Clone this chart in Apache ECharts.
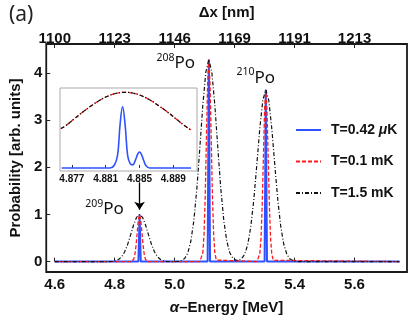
<!DOCTYPE html>
<html><head><meta charset="utf-8">
<script src="https://cdn.jsdelivr.net/npm/echarts@6/dist/echarts.min.js"></script>
<style>html,body{margin:0;padding:0;background:#fff}#c{width:415px;height:320px}</style>
</head><body><div id="c"></div>
<script>
const energyTicks = [4.6, 4.8, 5.0, 5.2, 5.4, 5.6];
const dxTickLabels = ['1100', '1123', '1146', '1169', '1191', '1213'];
const probTicks = [0, 1, 2, 3, 4];
const insetTicks = [4.877, 4.881, 4.885, 4.889];
const seriesNames = ['T=0.42 μK', 'T=0.1 mK', 'T=1.5 mK'];
const isotopes = ['209', '208', '210'];
const peakEnergy = [4.883, 5.114, 5.304];
const peakHeight = [1.0, 4.28, 3.64];
const arrowY = [1.68, 1.1];

const blueData = [[4.6,0],[4.879,0],[4.8815,0.6],[4.883,1.0],[4.8845,0.6],[4.887,0],
 [5.110,0],[5.1125,2.57],[5.114,4.28],[5.1155,2.57],[5.118,0],
 [5.300,0],[5.3025,2.18],[5.304,3.64],[5.3055,2.18],[5.308,0],[5.75,0]];

const redData = [[4.6,0],[4.853,0],[4.858,0.008],[4.863,0.044],[4.867,0.135],[4.871,0.325],[4.875,0.607],[4.879,0.882],[4.883,1.0],[4.887,0.882],[4.891,0.607],[4.895,0.325],[4.899,0.135],[4.903,0.044],[4.908,0.008],[4.913,0],
 [5.084,0],[5.089,0.033],[5.094,0.188],[5.098,0.578],[5.102,1.391],[5.106,2.598],[5.110,3.775],[5.114,4.28],[5.118,3.775],[5.122,2.598],[5.126,1.391],[5.130,0.578],[5.134,0.188],[5.139,0.033],[5.144,0],
 [5.274,0],[5.279,0.028],[5.284,0.160],[5.288,0.491],[5.292,1.183],[5.296,2.209],[5.300,3.210],[5.304,3.64],[5.308,3.210],[5.312,2.209],[5.316,1.183],[5.320,0.491],[5.324,0.160],[5.329,0.028],[5.334,0],[5.75,0]];

const blackData = [[4.6,0],[4.773,0],[4.783,0.002],[4.793,0.006],[4.803,0.017],[4.813,0.044],[4.823,0.101],[4.833,0.203],[4.843,0.360],[4.853,0.563],[4.863,0.775],[4.873,0.938],[4.883,1.0],[4.893,0.938],[4.903,0.775],[4.913,0.563],[4.923,0.360],[4.933,0.203],[4.943,0.101],[4.953,0.044],[4.963,0.017],[4.973,0.006],[4.983,0.002],[4.993,0.001],
 [5.004,0.002],[5.014,0.007],[5.024,0.024],[5.034,0.072],[5.044,0.188],[5.054,0.431],[5.064,0.869],[5.074,1.541],[5.084,2.410],[5.094,3.317],[5.104,4.015],[5.114,4.28],[5.124,4.015],[5.134,3.317],[5.144,2.410],[5.154,1.541],[5.164,0.869],[5.174,0.431],[5.184,0.188],[5.194,0.073],[5.204,0.030],
 [5.214,0.028],[5.224,0.064],[5.234,0.160],[5.244,0.367],[5.254,0.739],[5.264,1.310],[5.274,2.049],[5.284,2.821],[5.294,3.414],[5.304,3.64],[5.314,3.414],[5.324,2.821],[5.334,2.049],[5.344,1.310],[5.354,0.739],[5.364,0.367],[5.374,0.160],[5.384,0.062],[5.394,0.021],[5.404,0.006],[5.414,0.001],[5.75,0]];

const insetBlue = [[4.8758,0],[4.8815,0],[4.8820,0.04],[4.8824,0.2],[4.8827,0.7],[4.8830,1.0],[4.8833,0.7],[4.8836,0.2],[4.8839,0.07],[4.8842,0.05],[4.8845,0.12],[4.8848,0.23],[4.8850,0.26],[4.8852,0.23],[4.8855,0.12],[4.8858,0.03],[4.8862,0],[4.8911,0]];

const insetBroad = [[4.8757,0.64],[4.8763,0.69],[4.8773,0.80],[4.8783,0.91],[4.8793,1.01],[4.8803,1.10],[4.8813,1.17],[4.8823,1.215],[4.8833,1.23],[4.8843,1.215],[4.8853,1.17],[4.8863,1.10],[4.8873,1.01],[4.8883,0.91],[4.8893,0.80],[4.8903,0.69],[4.8911,0.62]];

const BLUE = '#2e52ff', RED = '#ff1a1a', BLACK = '#111';
const F = 'Liberation Sans, Arial, sans-serif';
const labelOffsets = [[-35, -5], [-33, 4], [-10, -12]];

const chart = echarts.init(document.getElementById('c'));
const axisText = {fontSize: 15, fontWeight: 'bold', color: '#111', fontFamily: F};

const option = {
  animation: false,
  title: {text: '(a)', left: 4, top: 0, textStyle: {fontSize: 21, fontWeight: 'normal', color: '#222', fontFamily: 'Noto Sans'}},
  grid: [
    {left: 45, right: 8, top: 44, bottom: 48, show: true, borderColor: '#1a1a1a', borderWidth: 1.8, backgroundColor: 'transparent'},
    {left: 60, top: 88, width: 137, height: 83, show: true, borderColor: '#aaa', borderWidth: 1, backgroundColor: '#fff', z: 10}
  ],
  xAxis: [
    {type: 'value', gridIndex: 0, min: 4.5717, max: 5.775, position: 'bottom',
     axisLine: {show: false}, splitLine: {show: false},
     axisTick: {inside: true, length: 4, customValues: energyTicks, lineStyle: {color: '#222'}},
     axisLabel: Object.assign({customValues: energyTicks, formatter: v => v.toFixed(1), margin: 5}, axisText),
     name: '{i|α}–Energy [MeV]', nameLocation: 'middle', nameGap: 28,
     nameTextStyle: Object.assign({rich: {i: {fontStyle: 'italic', fontSize: 15, fontWeight: 'bold', fontFamily: F, color: '#111'}}}, axisText)},
    {type: 'value', gridIndex: 0, min: 4.5717, max: 5.775, position: 'top',
     axisLine: {show: false}, splitLine: {show: false},
     axisTick: {inside: true, length: 4, customValues: energyTicks, lineStyle: {color: '#222'}},
     axisLabel: Object.assign({customValues: energyTicks, margin: -2,
       formatter: v => dxTickLabels[energyTicks.findIndex(t => Math.abs(t - v) < 1e-6)]}, axisText),
     name: 'Δx [nm]', nameLocation: 'middle', nameGap: 24, nameTextStyle: axisText},
    {type: 'value', gridIndex: 1, min: 4.8756, max: 4.8918, z: 11,
     axisLine: {show: false}, splitLine: {show: false},
     axisTick: {inside: true, length: 3, customValues: insetTicks, lineStyle: {color: '#333'}},
     axisLabel: {customValues: insetTicks, formatter: v => v.toFixed(3), margin: 3, fontSize: 10, fontWeight: 'bold', color: '#111', fontFamily: F}}
  ],
  yAxis: [
    {type: 'value', gridIndex: 0, min: -0.22, max: 4.61,
     axisLine: {show: false}, splitLine: {show: false},
     axisTick: {inside: true, length: 4, customValues: probTicks, lineStyle: {color: '#222'}},
     axisLabel: Object.assign({customValues: probTicks, margin: 4}, axisText),
     name: 'Probability [arb. units]', nameLocation: 'middle', nameGap: 19, nameRotate: 90, nameTextStyle: axisText},
    {type: 'value', gridIndex: 1, min: -0.05, max: 1.30, show: false}
  ],
  legend: {
    data: seriesNames, orient: 'vertical', left: 290, top: 118, itemWidth: 25, itemHeight: 14, itemGap: 17.5,
    itemStyle: {opacity: 0},
    formatter: n => n.replace('μ', '{i|μ}'),
    textStyle: {fontSize: 14, fontWeight: 'bold', color: '#111', fontFamily: F, padding: [0, 0, 0, 5],
      rich: {i: {fontStyle: 'italic', fontSize: 14, fontWeight: 'bold', fontFamily: F, color: '#111'}}}
  },
  series: [
    {name: seriesNames[0], type: 'line', xAxisIndex: 0, yAxisIndex: 0, data: blueData, symbol: 'none',
     lineStyle: {color: BLUE, width: 2}, itemStyle: {color: BLUE}, z: 3},
    {name: seriesNames[1], type: 'line', xAxisIndex: 0, yAxisIndex: 0, data: redData, symbol: 'none',
     lineStyle: {color: RED, width: 1.3, type: [4, 2]}, itemStyle: {color: RED}, z: 4},
    {name: seriesNames[2], type: 'line', xAxisIndex: 0, yAxisIndex: 0, data: blackData, symbol: 'none',
     lineStyle: {color: BLACK, width: 1.2, type: [4, 2, 1, 2]}, itemStyle: {color: BLACK}, z: 5,
     markPoint: {symbol: 'circle', symbolSize: 0, silent: true,
       data: isotopes.map((iso, k) => ({coord: [peakEnergy[k], peakHeight[k]], value: iso,
         label: {show: true, position: 'inside', offset: labelOffsets[k], formatter: '{s|' + iso + '}{p|Po}',
           rich: {s: {fontSize: 10.5, fontFamily: 'Noto Sans', color: '#111', verticalAlign: 'top', lineHeight: 22},
                  p: {fontSize: 17, fontFamily: 'Noto Sans', color: '#111', lineHeight: 22}}}}))},
     markLine: {silent: true, symbol: ['none', 'arrow'], symbolSize: 8, label: {show: false},
       lineStyle: {color: '#000', width: 1.3, type: 'solid'},
       data: [[{coord: [peakEnergy[0], arrowY[0]]}, {coord: [peakEnergy[0], arrowY[1]]}]]}},
    {name: seriesNames[0], type: 'line', xAxisIndex: 2, yAxisIndex: 1, data: insetBlue, symbol: 'none', smooth: 0.4,
     lineStyle: {color: BLUE, width: 1.6}, itemStyle: {color: BLUE}, z: 12},
    {name: seriesNames[1], type: 'line', xAxisIndex: 2, yAxisIndex: 1, data: insetBroad, symbol: 'none', smooth: true,
     lineStyle: {color: RED, width: 1.2, type: [4, 2]}, itemStyle: {color: RED}, z: 12},
    {name: seriesNames[2], type: 'line', xAxisIndex: 2, yAxisIndex: 1, data: insetBroad, symbol: 'none', smooth: true,
     lineStyle: {color: BLACK, width: 1.2, type: [4, 2, 1, 2]}, itemStyle: {color: BLACK}, z: 13}
  ]
};
chart.setOption(option);
</script></body></html>
